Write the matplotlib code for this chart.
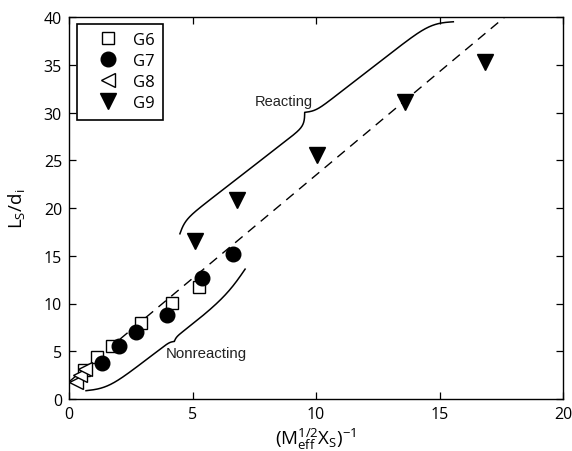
import numpy as np
import matplotlib
matplotlib.use("Agg")
import matplotlib.pyplot as plt

plt.rcParams["font.family"] = ["Open Sans", "DejaVu Sans"]
plt.rcParams["mathtext.fontset"] = "custom"
plt.rcParams["mathtext.rm"] = "Open Sans"
plt.rcParams["mathtext.it"] = "Open Sans:italic"
plt.rcParams["mathtext.bf"] = "Open Sans:bold"

# ---- data -------------------------------------------------------------
g6_x = [0.60, 1.15, 1.75, 2.90, 4.16, 5.26]
g6_y = [3.0, 4.4, 5.5, 8.0, 10.1, 11.7]

g7_x = [1.35, 2.02, 2.71, 3.95, 5.40, 6.65]
g7_y = [3.8, 5.5, 7.05, 8.8, 12.7, 15.2]

g8_x = [0.30, 0.45, 0.65]
g8_y = [1.8, 2.5, 3.1]

g9_x = [5.10, 6.79, 10.03, 13.60, 16.84]
g9_y = [16.5, 20.8, 25.5, 31.1, 35.3]

# linear correlation  L_S/d_i = a + b * (M_eff^1/2 X_S)^-1
fit_intercept = 1.8
fit_slope = 2.165

x_ticks = [0, 5, 10, 15, 20]
y_ticks = [0, 5, 10, 15, 20, 25, 30, 35, 40]

# brace end points (data units) bounding each regime
reacting_span = [(4.49, 17.3), (15.56, 39.5)]
nonreacting_span = [(0.69, 0.87), (7.13, 13.6)]


def brace_points(ax, p0, p1, side, hb0, hb1, hc, bt0, bc0, bc1, bt1, n=400):
    """Curly brace from p0 to p1 built in display space (pixels)."""
    a = ax.transData.transform(p0)
    b = ax.transData.transform(p1)
    d = b - a
    L = np.hypot(*d)
    u = d / L
    nrm = np.array([-u[1], u[0]]) * side
    L2 = L / 2.0

    def half(t, hb, bt, bc):
        return hb * np.tanh(bt * t / 2.0) + (hc - hb) * 2.0 / (1.0 + np.exp(bc * (L2 - t)))

    t = np.linspace(0, L2, n)
    y0 = half(t, hb0, bt0, bc0)
    y1 = half(t, hb1, bt1, bc1)
    s = np.concatenate([t, (L - t)[::-1][1:]])
    h = np.concatenate([y0, y1[::-1][1:]])
    pts = a + np.outer(s, u) + np.outer(h, nrm)
    return ax.transData.inverted().transform(pts)


fig = plt.figure(figsize=(5.72, 4.52), dpi=100)
ax = fig.add_axes([69 / 572, 52 / 452, 494 / 572, 382 / 452])
ax.set_xlim(0, 20)
ax.set_ylim(0, 40)

# correlation line
xl = np.array([0, 20])
ax.plot(xl, fit_intercept + fit_slope * xl, color="black", lw=1.0,
        linestyle=(0, (7, 5)), zorder=1)

# data series
ax.plot(g6_x, g6_y, linestyle="none", marker="s", ms=8, mfc="white",
        mec="black", mew=1.0, label="G6", zorder=3)
ax.plot(g7_x, g7_y, linestyle="none", marker="o", ms=10.5, mfc="black",
        mec="black", label="G7", zorder=4)
ax.plot(g8_x, g8_y, linestyle="none", marker="<", ms=10.5, mfc="white",
        mec="black", mew=1.0, label="G8", zorder=3)
ax.plot(g9_x, g9_y, linestyle="none", marker="v", ms=12, mfc="black",
        mec="black", label="G9", zorder=3)

# braces marking regimes
fig.canvas.draw()
rb = brace_points(ax, reacting_span[0], reacting_span[1], +1,
                  8.5, 13.5, 19.5, 0.15, 0.23, 0.2, 0.1)
ax.plot(rb[:, 0], rb[:, 1], color="black", lw=1.1, clip_on=False)
nb = brace_points(ax, nonreacting_span[0], nonreacting_span[1], -1,
                  12.0, 12.0, 14.5, 0.10, 0.45, 0.45, 0.055)
ax.plot(nb[:, 0], nb[:, 1], color="black", lw=1.1, clip_on=False)

ax.text(7.53, 30.8, "Reacting", family="Liberation Sans", fontsize=10.5,
        color="#222222", va="baseline", ha="left")
ax.text(3.93, 4.37, "Nonreacting", family="Liberation Sans", fontsize=10.8,
        color="#222222", va="baseline", ha="left")

ax.set_xticks(x_ticks)
ax.set_yticks(y_ticks)
ax.tick_params(direction="in", length=5, width=0.9, top=True, right=True,
               labelsize=11.5, pad=5, colors="black")
for sp in ax.spines.values():
    sp.set_linewidth(1.0)

ax.set_xlabel(r"$(\mathrm{M}_{\mathrm{eff}}^{1/2}\mathrm{X}_{\mathrm{S}})^{-1}$",
              fontsize=13.5, labelpad=3)
ax.set_ylabel(r"$\mathrm{L}_{\mathrm{S}}/\mathrm{d}_{\mathrm{i}}$",
              fontsize=13.5, labelpad=12)

leg = ax.legend(loc="upper left", bbox_to_anchor=(0.0156, 0.982),
                borderaxespad=0, fontsize=12, frameon=True, fancybox=False,
                edgecolor="black", framealpha=1, handlelength=2.7,
                handletextpad=0.2, borderpad=0.5, labelspacing=0.3,
                numpoints=1)
leg.get_frame().set_linewidth(1.2)

fig.savefig("out.png", dpi=100)
